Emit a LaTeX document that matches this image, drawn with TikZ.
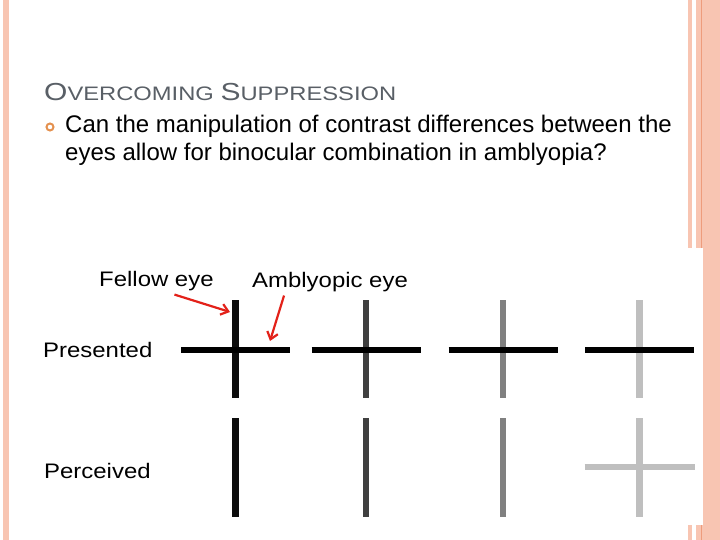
\documentclass[tikz,border=0pt]{standalone}
\usepackage{fontspec}
\setmainfont{Liberation Sans}
\usepackage{graphicx}
\usetikzlibrary{arrows.meta, positioning}
\definecolor{slideborder}{HTML}{F8C5B2}
\definecolor{slideline}{HTML}{EE9C7C}
\definecolor{titlegray}{HTML}{595F66}
\definecolor{bulletorange}{HTML}{E4914F}
\definecolor{pointred}{HTML}{E32119}
\newcommand{\wide}[1]{\scalebox{1.14}[1]{#1}}

\begin{document}
\begin{tikzpicture}[
  x=1pt, y=-1pt,
  every node/.style={inner sep=0pt, anchor=base west},
  bar/.style={line width=6.5pt},
  pointer/.style={pointred, line width=2.2pt, -{Straight Barb[length=7pt,width=11pt]}},
  bodytext/.style={font=\fontsize{24}{24}\selectfont},
  imgtext/.style={font=\fontsize{21}{21}\selectfont}
]
\useasboundingbox (0,0) rectangle (720,540);

% Slide border
\fill[slideborder] (3,0) rectangle (9,540);
\fill[slideborder] (688,0) rectangle (692,540);
\fill[slideborder] (696,0) rectangle (720,540);
\draw[slideline, line width=1pt] (701.5,0) -- (701.5,540);
\fill[white] (30,248) rectangle (703,525);

% Title and bullet
\node[titlegray] (title) at (44,101) {\resizebox{352pt}{17.2pt}{%
  {\fontsize{24}{24}\selectfont O}{\fontsize{19}{19}\selectfont VERCOMING }%
  {\fontsize{24}{24}\selectfont S}{\fontsize{19}{19}\selectfont UPPRESSION}}};
\draw[bulletorange, line width=2pt] (50,127) circle (3.5);
\node[bodytext] (line1) at (65,133) {Can the manipulation of contrast differences between the};
\node[bodytext] (line2) at (65,161) {eyes allow for binocular combination in amblyopia?};

% Row labels
\node[imgtext] (fellow) at (99,286) {\wide{Fellow eye}};
\node[imgtext] (amblyopic) at (252,287) {\wide{Amblyopic eye}};
\node[imgtext] (presented) at (43,357) {\wide{Presented}};
\node[imgtext] (perceived) at (44,478) {\wide{Perceived}};

% Crosses
\foreach \cx/\shade in {235.5/black!95, 366/black!75, 503/black!50, 639.5/black!25}{
  \draw[bar, \shade] (\cx,300) -- (\cx,398);
  \draw[bar, black] (\cx-54.5,350) -- (\cx+54.5,350);
  \draw[bar, \shade] (\cx,418) -- (\cx,517);
}
\draw[bar, black!25] (584.5,467) -- (694.5,467);

% Pointers
\coordinate (fellowtip) at (230,312);
\coordinate (amblyotip) at (270,341);
\draw[pointer] ([xshift=18pt, yshift=-4pt]fellow.south) -- (fellowtip);
\draw[pointer] ([xshift=-46pt, yshift=-4pt]amblyopic.south) -- (amblyotip);
\end{tikzpicture}
\end{document}
